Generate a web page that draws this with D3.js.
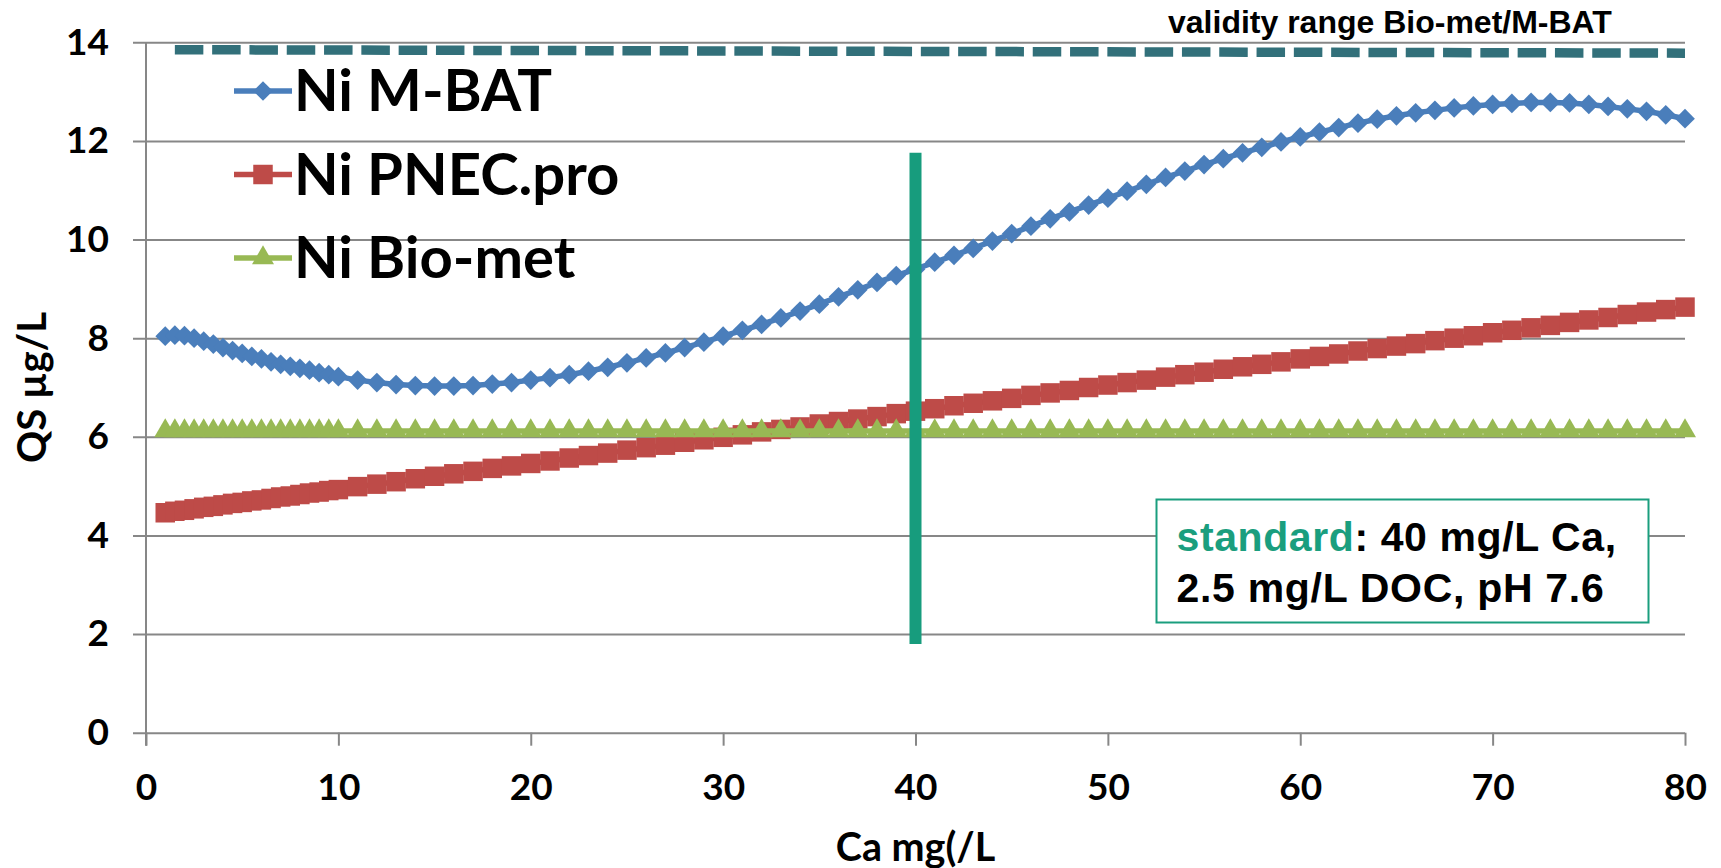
<!doctype html>
<html>
<head>
<meta charset="utf-8">
<script src="https://cdn.jsdelivr.net/npm/d3@7"></script>
<style>
  body { margin: 0; background: #fff; }
  svg { display: block; background: #fff; }
  .axis text, .lbl { font-family: Lato, sans-serif; font-weight: bold; fill: #000; }
  .arial { font-family: "Liberation Sans", Arial, sans-serif; font-weight: bold; }
</style>
</head>
<body>
<svg width="1721" height="868"></svg>
<script>

// Ca (mg/L) steps: half steps up to 10, then whole steps
var caX = [1, 1.5, 2, 2.5, 3, 3.5, 4, 4.5, 5, 5.5, 6, 6.5, 7, 7.5, 8, 8.5, 9, 9.5, 10,
  11, 12, 13, 14, 15, 16, 17, 18, 19, 20, 21, 22, 23, 24, 25, 26, 27, 28, 29, 30,
  31, 32, 33, 34, 35, 36, 37, 38, 39, 40, 41, 42, 43, 44, 45, 46, 47, 48, 49, 50,
  51, 52, 53, 54, 55, 56, 57, 58, 59, 60, 61, 62, 63, 64, 65, 66, 67, 68, 69, 70,
  71, 72, 73, 74, 75, 76, 77, 78, 79, 80];

var mbat = [8.04, 8.06, 8.05, 8.00, 7.94, 7.88, 7.81, 7.75, 7.69, 7.63, 7.58, 7.52, 7.47, 7.43, 7.39, 7.35, 7.30, 7.26, 7.22,
  7.15, 7.10, 7.06, 7.04, 7.03, 7.03, 7.04, 7.07, 7.10, 7.15, 7.20, 7.26, 7.33, 7.41, 7.50, 7.60, 7.70, 7.81, 7.92, 8.04,
  8.16, 8.28, 8.41, 8.55, 8.69, 8.84, 8.98, 9.13, 9.27, 9.40, 9.54, 9.68, 9.82, 9.97, 10.12, 10.27, 10.42, 10.56, 10.70, 10.84,
  10.98, 11.12, 11.26, 11.39, 11.52, 11.64, 11.76, 11.87, 11.98, 12.08, 12.18, 12.27, 12.36, 12.44, 12.51, 12.57, 12.62, 12.67, 12.71, 12.74,
  12.76, 12.78, 12.78, 12.77, 12.74, 12.70, 12.65, 12.60, 12.53, 12.45];

var pnec = [4.46, 4.49, 4.51, 4.54, 4.57, 4.59, 4.62, 4.65, 4.67, 4.70, 4.72, 4.75, 4.78, 4.80, 4.83, 4.86, 4.88, 4.91, 4.93,
  4.99, 5.04, 5.09, 5.15, 5.20, 5.25, 5.30, 5.36, 5.41, 5.46, 5.51, 5.57, 5.62, 5.67, 5.73, 5.78, 5.83, 5.89, 5.94, 5.99,
  6.04, 6.10, 6.15, 6.20, 6.26, 6.31, 6.36, 6.41, 6.47, 6.52, 6.57, 6.63, 6.68, 6.73, 6.78, 6.84, 6.89, 6.94, 7.00, 7.05,
  7.10, 7.15, 7.21, 7.26, 7.31, 7.37, 7.42, 7.47, 7.52, 7.58, 7.63, 7.68, 7.74, 7.79, 7.84, 7.89, 7.95, 8.00, 8.05, 8.11,
  8.16, 8.21, 8.26, 8.32, 8.37, 8.42, 8.48, 8.53, 8.58, 8.63];

var biomet = [6.12, 6.12, 6.12, 6.12, 6.12, 6.12, 6.12, 6.12, 6.12, 6.12, 6.12, 6.12, 6.12, 6.12, 6.12, 6.12, 6.12, 6.12, 6.12,
  6.12, 6.12, 6.12, 6.12, 6.12, 6.12, 6.12, 6.12, 6.12, 6.12, 6.12, 6.12, 6.12, 6.12, 6.12, 6.12, 6.12, 6.12, 6.12, 6.12,
  6.12, 6.12, 6.12, 6.12, 6.12, 6.12, 6.12, 6.12, 6.12, 6.12, 6.12, 6.12, 6.12, 6.12, 6.12, 6.12, 6.12, 6.12, 6.12, 6.12,
  6.12, 6.12, 6.12, 6.12, 6.12, 6.12, 6.12, 6.12, 6.12, 6.12, 6.12, 6.12, 6.12, 6.12, 6.12, 6.12, 6.12, 6.12, 6.12, 6.12,
  6.12, 6.12, 6.12, 6.12, 6.12, 6.12, 6.12, 6.12, 6.12, 6.12];

var validityX = [1.5, 80];
var validityY = [13.85, 13.78];
var standardX = [40, 40];
var standardY = [1.8, 11.76];

var xTicks = [0, 10, 20, 30, 40, 50, 60, 70, 80];
var yTicks = [0, 2, 4, 6, 8, 10, 12, 14];
var seriesNames = ["Ni M-BAT", "Ni PNEC.pro", "Ni Bio-met"];

var svg = d3.select("svg");
var xScale = d3.scaleLinear().domain([0, 80]).range([146, 1685]);
var yScale = d3.scaleLinear().domain([0, 14]).range([732.7, 42.3]);

// grid + y labels
var yAxis = d3.axisLeft(yScale).tickValues(yTicks).tickSize(-(1685 - 146)).tickSizeOuter(0).tickPadding(37);
var yG = svg.append("g").attr("class", "axis").attr("transform", "translate(146,0)").call(yAxis);
yG.select(".domain").remove();
yG.selectAll(".tick line").attr("x1", -13).attr("stroke", "#878787").attr("stroke-width", 2);
yG.selectAll(".tick text").style("font-size", "37px");

var xAxis = d3.axisBottom(xScale).tickValues(xTicks).tickSize(13).tickSizeOuter(0);
var xG = svg.append("g").attr("class", "axis").attr("transform", "translate(0,732.7)").call(xAxis);
xG.select(".domain").remove();
xG.selectAll(".tick line").attr("stroke", "#878787").attr("stroke-width", 2);
xG.selectAll(".tick text").attr("y", 67).attr("dy", null).style("font-size", "37px");

svg.append("line")
  .attr("x1", xScale(0)).attr("x2", xScale(0))
  .attr("y1", yScale(14)).attr("y2", yScale(0) + 13)
  .attr("stroke", "#878787").attr("stroke-width", 2);

// axis titles
svg.append("text").attr("class", "lbl")
  .attr("transform", "translate(46,387.5) rotate(-90)")
  .attr("text-anchor", "middle").style("font-size", "40px")
  .text("QS µg/L");
svg.append("text").attr("class", "lbl")
  .attr("x", 915.5).attr("y", 861)
  .attr("text-anchor", "middle").style("font-size", "39.5px")
  .text("Ca mg(/L");

// series
var diamond = {
  draw: function(ctx, size) {
    var r = Math.sqrt(size / 2);
    ctx.moveTo(0, -r); ctx.lineTo(r, 0); ctx.lineTo(0, r); ctx.lineTo(-r, 0); ctx.closePath();
  }
};

var series = [
  { name: seriesNames[0], values: mbat, color: "#4a7ebb", sym: d3.symbol(diamond, 195) },
  { name: seriesNames[1], values: pnec, color: "#be4b48", sym: d3.symbol(d3.symbolSquare, 380) },
  { name: seriesNames[2], values: biomet, color: "#98b954", sym: d3.symbol(d3.symbolTriangle, 210) }
];

var line = d3.line().x(d => xScale(d[0])).y(d => yScale(d[1]));

series.forEach(function(s) {
  var pts = caX.map((x, i) => [x, s.values[i]]);
  var g = svg.append("g");
  g.append("path").attr("d", line(pts))
    .attr("fill", "none").attr("stroke", s.color).attr("stroke-width", 5.5);
  g.selectAll("path.m").data(pts).enter().append("path")
    .attr("class", "m")
    .attr("transform", d => "translate(" + xScale(d[0]) + "," + yScale(d[1]) + ")")
    .attr("d", s.sym())
    .attr("fill", s.color);
});

// standard condition line
svg.append("path")
  .attr("d", line(standardX.map((x, i) => [x, standardY[i]])))
  .attr("stroke", "#179c7d").attr("stroke-width", 12).attr("fill", "none");

// validity range
svg.append("path")
  .attr("d", line(validityX.map((x, i) => [x, validityY[i]])))
  .attr("stroke", "#32707a").attr("stroke-width", 9.5)
  .attr("stroke-dasharray", "28.5,8.8").attr("fill", "none");

svg.append("text").attr("class", "arial")
  .attr("x", 1168).attr("y", 33).style("font-size", "32px")
  .text("validity range Bio-met/M-BAT");

// legend
var legend = svg.append("g").attr("transform", "translate(234,91)");
series.forEach(function(s, i) {
  var row = legend.append("g").attr("transform", "translate(0," + (i * 83.5) + ")");
  row.append("line").attr("x1", 0).attr("x2", 58).attr("y1", 0).attr("y2", 0)
    .attr("stroke", s.color).attr("stroke-width", 5.5);
  row.append("path").attr("transform", "translate(29,0)").attr("d", s.sym()).attr("fill", s.color);
  row.append("text").attr("class", "lbl")
    .attr("x", 60).attr("y", 20).style("font-size", "58px")
    .text(s.name);
});

// standard box
var box = svg.append("g").attr("transform", "translate(1156.5,499.5)");
box.append("rect").attr("width", 492).attr("height", 123)
  .attr("fill", "#fff").attr("stroke", "#1a9e7e").attr("stroke-width", 2);
var t1 = box.append("text").attr("class", "arial")
  .attr("x", 20).attr("y", 51.5).style("font-size", "41px").style("letter-spacing", "0.6px");
t1.append("tspan").attr("fill", "#1a9e7e").text("standard");
t1.append("tspan").attr("fill", "#000").text(": 40 mg/L Ca,");
box.append("text").attr("class", "arial")
  .attr("x", 20).attr("y", 102).style("font-size", "41px").style("letter-spacing", "0.7px")
  .text("2.5 mg/L DOC, pH 7.6");

</script>
</body>
</html>
